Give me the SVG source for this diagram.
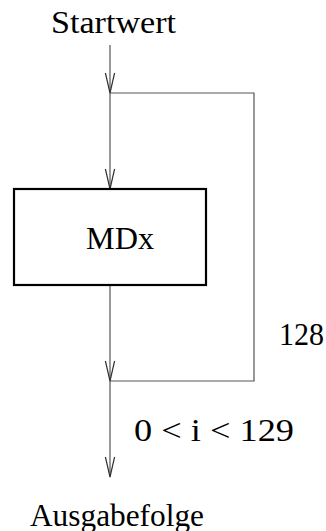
<svg xmlns="http://www.w3.org/2000/svg" width="326" height="531" viewBox="0 0 326 531">
<style>
text{font-family:"Liberation Serif","Times New Roman",serif;fill:#000;font-size:31px}
.ln{stroke:#555;stroke-width:1.2;fill:none}
.ah{stroke:#333;stroke-width:1.2;fill:none}
</style>
<defs>
<path id="ah" d="M-4.6,-20 L0,0 L4.6,-20"/>
</defs>
<rect width="326" height="531" fill="#fff"/>
<g id="connectors">
<path class="ln" d="M110,45 V477"/>
<path class="ln" d="M110,93 H254 V381 H110"/>
<use href="#ah" class="ah" x="110" y="93"/>
<use href="#ah" class="ah" x="110" y="189"/>
<use href="#ah" class="ah" x="110" y="381"/>
<use href="#ah" class="ah" x="110" y="477"/>
</g>
<g id="start"><text x="51" y="33" textLength="125" lengthAdjust="spacingAndGlyphs">Startwert</text></g>
<g id="mdx">
<rect x="14" y="189" width="192" height="96" fill="#fff" stroke="#000" stroke-width="2.2"/>
<text x="86" y="249" textLength="68" lengthAdjust="spacingAndGlyphs">MDx</text>
</g>
<g id="label128"><text x="279" y="345" textLength="45" lengthAdjust="spacingAndGlyphs">128</text></g>
<g id="labelRange"><text x="134" y="441" textLength="160" lengthAdjust="spacingAndGlyphs">0 &lt; i &lt; 129</text></g>
<g id="output"><text x="30" y="525.5" textLength="174" lengthAdjust="spacingAndGlyphs">Ausgabefolge</text></g>
</svg>
